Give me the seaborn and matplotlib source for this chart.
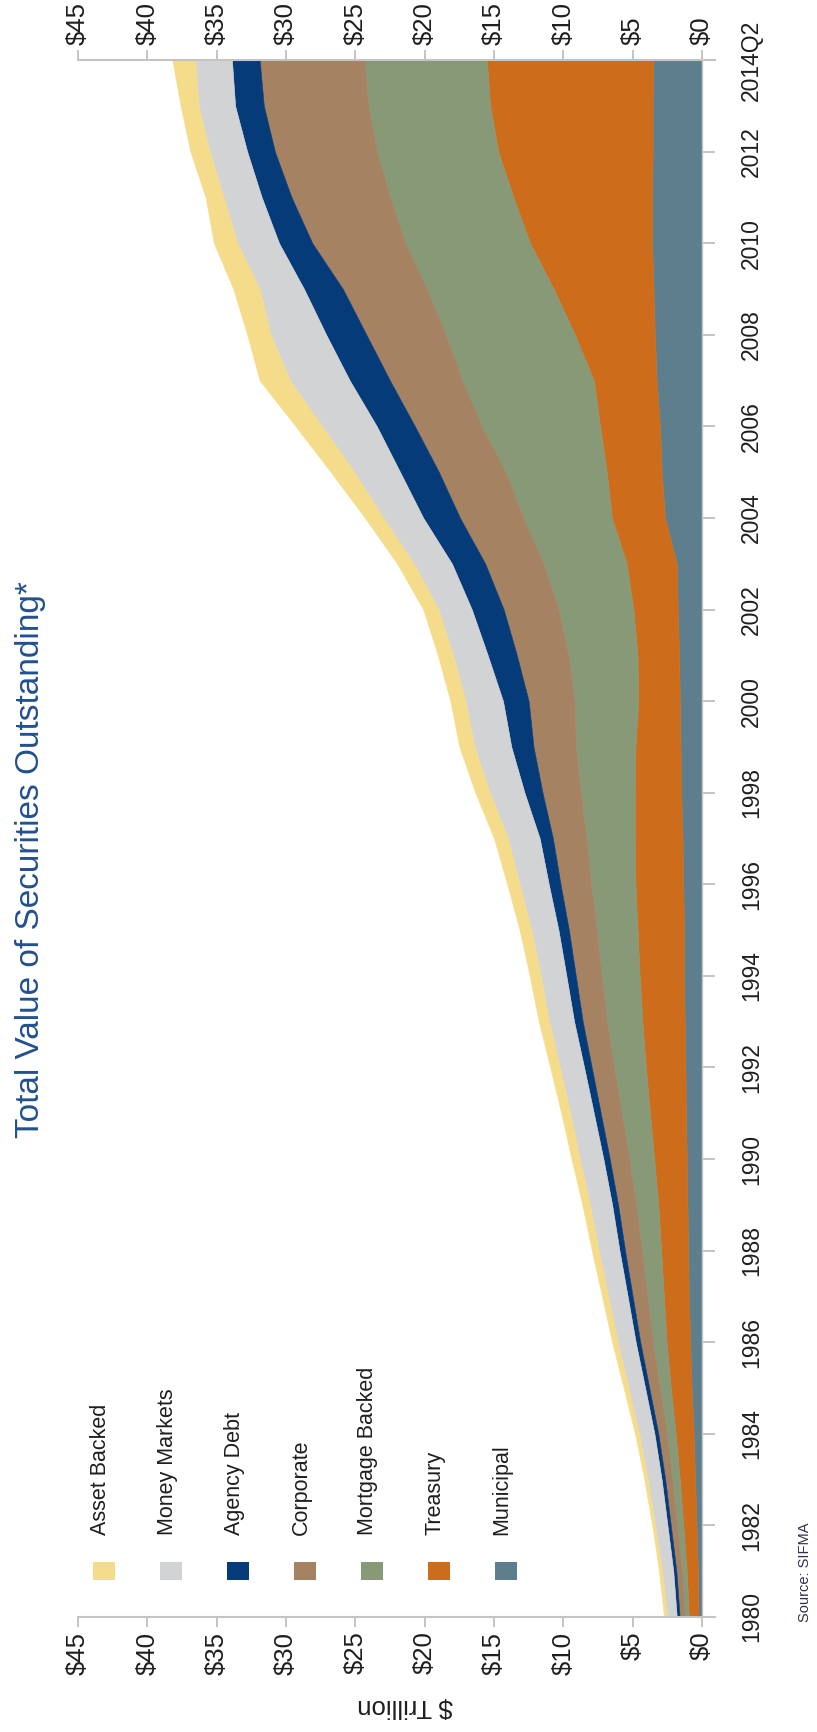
import matplotlib
matplotlib.use("Agg")
import matplotlib.pyplot as plt
from matplotlib.patches import Rectangle
import seaborn as sns

# Periods (category axis), last point is a quarter
periods = [str(y) for y in range(1980, 2014)] + ["2014Q2"]

# $ trillion outstanding (bottom of stack first)
municipal = [0.25, 0.3, 0.4, 0.5, 0.6, 0.75, 0.85, 0.95, 1.0, 1.05, 1.1, 1.15,
             1.2, 1.25, 1.3, 1.3, 1.35, 1.4, 1.5, 1.55, 1.6, 1.65, 1.75, 1.82,
             2.67, 2.91, 3.03, 3.27, 3.4, 3.5, 3.6, 3.6, 3.56, 3.56, 3.51]
treasury = [0.7, 0.8, 0.95, 1.1, 1.3, 1.5, 1.7, 1.8, 1.95, 2.1, 2.35, 2.6,
            2.85, 3.05, 3.2, 3.35, 3.45, 3.45, 3.35, 3.25, 3.0, 3.0, 3.2, 3.61,
            3.83, 3.96, 4.32, 4.53, 5.76, 7.2, 8.8, 10.0, 11.14, 11.72, 12.01]
mortgage = [0.3, 0.35, 0.45, 0.55, 0.65, 0.8, 1.0, 1.2, 1.4, 1.6, 1.8, 2.05,
            2.3, 2.55, 2.75, 2.95, 3.2, 3.5, 3.9, 4.3, 4.6, 5.0, 5.4, 6.0,
            6.4, 7.3, 8.55, 9.5, 9.34, 9.15, 9.0, 8.9, 8.75, 8.78, 8.83]
corporate = [0.36, 0.4, 0.45, 0.5, 0.6, 0.75, 0.9, 1.05, 1.2, 1.3, 1.4, 1.5,
             1.6, 1.75, 1.85, 2.0, 2.2, 2.4, 2.75, 3.05, 3.3, 3.7, 3.95, 4.2,
             4.55, 4.8, 4.8, 5.2, 5.7, 6.05, 6.7, 7.1, 7.35, 7.54, 7.55]
agency = [0.21, 0.22, 0.24, 0.26, 0.28, 0.3, 0.33, 0.36, 0.4, 0.43, 0.46, 0.5,
          0.55, 0.62, 0.68, 0.75, 0.85, 0.95, 1.3, 1.6, 1.85, 2.1, 2.3, 2.4,
          2.65, 2.8, 2.75, 2.9, 2.9, 2.8, 2.4, 2.15, 2.0, 2.07, 2.0]
money_markets = [0.7, 0.8, 0.9, 1.0, 1.1, 1.2, 1.3, 1.4, 1.5, 1.6, 1.7, 1.7,
                 1.75, 1.8, 1.85, 1.95, 2.1, 2.3, 2.5, 2.65, 2.7, 2.5, 2.4, 2.75,
                 2.87, 3.3, 3.95, 4.3, 4.0, 3.2, 3.0, 2.75, 2.7, 2.63, 2.65]
asset_backed = [0.22, 0.23, 0.2, 0.25, 0.3, 0.35, 0.4, 0.45, 0.5, 0.55, 0.6, 0.65,
                0.7, 0.75, 0.8, 0.85, 0.9, 1.0, 1.05, 1.1, 1.1, 1.1, 1.1, 1.2,
                1.33, 1.7, 1.9, 2.2, 1.7, 1.9, 1.7, 1.3, 1.4, 1.3, 1.65]

series_names = ["Municipal", "Treasury", "Mortgage Backed", "Corporate",
                "Agency Debt", "Money Markets", "Asset Backed"]
series_values = [municipal, treasury, mortgage, corporate, agency,
                 money_markets, asset_backed]
series_colors = ["#5d7f8d", "#cd6d1b", "#879977", "#a58261",
                 "#063b7a", "#d2d3d5", "#f5dc8b"]

value_ticks = list(range(0, 50, 5))
year_ticks = list(range(0, 34, 2)) + [34]

W, H = 817, 1732


def px(x, y):
    """Pixel position (from top-left) to figure fraction."""
    return x / W, 1 - y / H


sns.set_style("white")
plt.rcParams["font.family"] = ["Liberation Sans Narrow", "Liberation Sans", "DejaVu Sans"]
palette = sns.color_palette(series_colors)

fig = plt.figure(figsize=(W / 100, H / 100), dpi=100)
ax = fig.add_axes([78 / W, 1 - 1617 / H, 624 / W, 1557 / H])

idx = list(range(len(periods)))
lower = [0.0] * len(periods)
for name, vals, col in zip(series_names, series_values, palette):
    upper = [a + b for a, b in zip(lower, vals)]
    ax.fill_betweenx(idx, lower, upper, color=col, linewidth=0.4, edgecolor=col, label=name)
    lower = upper

ax.set_xlim(45, 0)
ax.set_ylim(0, 34)

grey = "#c4c4c4"
ax.set_xticks(value_ticks)
ax.set_xticklabels([f"\\${v}" for v in value_ticks])
ax.tick_params(axis="x", top=True, bottom=True, labeltop=True, labelbottom=True,
               labelrotation=90, length=7, width=1.4, color=grey, pad=3.5,
               labelsize=18.5, labelcolor="#1e1e1e", direction="out")
ax.yaxis.tick_right()
ax.set_yticks(year_ticks)
ax.set_yticklabels([periods[i] for i in year_ticks])
ax.tick_params(axis="y", right=True, left=False, labelright=True, labelleft=False,
               labelrotation=90, length=9.4, width=1.4, color=grey, pad=18,
               labelsize=16.5, labelcolor="#1e1e1e", direction="out")
for lab in ax.get_yticklabels():
    lab.set_verticalalignment("center")

for side in ["top", "bottom"]:
    ax.spines[side].set_color(grey)
    ax.spines[side].set_linewidth(1.5)
    ax.spines[side].set_bounds(45, -0.94)
ax.spines["right"].set_color(grey)
ax.spines["right"].set_linewidth(1.0)
ax.spines["left"].set_visible(False)

# title, axis label, source
fig.text(*px(31, 860), "Total Value of Securities Outstanding*", rotation=90,
         ha="center", va="center", fontsize=24, color="#22508f")
fig.text(*px(405, 1706), "\\$ Trillion", rotation=180, ha="center", va="center",
         fontsize=18.5, color="#1e1e1e")
fig.text(*px(805, 1622), "Source: SIFMA", rotation=90, ha="center", va="bottom",
         fontsize=10.5, color="#2d3050")

# legend drawn rotated, like the rest of the figure
legend_order = ["Asset Backed", "Money Markets", "Agency Debt", "Corporate",
                "Mortgage Backed", "Treasury", "Municipal"]
color_of = dict(zip(series_names, palette))
for k, name in enumerate(legend_order):
    cx = 104 + 67 * k
    x0, y0 = px(cx - 11, 1580)
    fig.patches.append(Rectangle((x0, y0), 22 / W, 18 / H, transform=fig.transFigure,
                                 facecolor=color_of[name], edgecolor="none"))
    fig.text(*px(cx - 4, 1535), name, rotation=90, ha="center", va="bottom",
             fontsize=15.5, color="#1e1e1e")

fig.savefig("out.png", dpi=100)
